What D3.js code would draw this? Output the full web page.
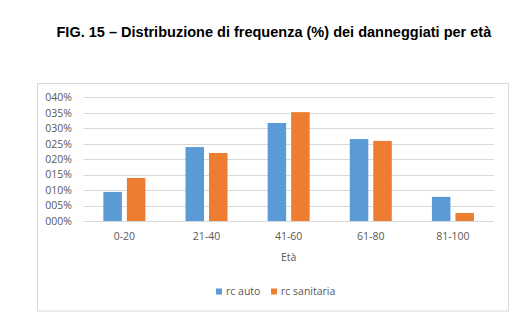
<!DOCTYPE html>
<html><head><meta charset="utf-8">
<script src="https://cdn.jsdelivr.net/npm/d3@7"></script>
<style>
body{margin:0;background:#fff;}
svg{display:block;}
</style></head>
<body>
<svg id="c" width="528" height="326"></svg>
<script>
const categories = ["0-20","21-40","41-60","61-80","81-100"];
const rcAuto = [9.4, 23.9, 31.7, 26.5, 7.8];
const rcSanitaria = [13.9, 22.0, 35.2, 25.9, 2.6];
const seriesNames = ["rc auto","rc sanitaria"];
const tickValues = [0,5,10,15,20,25,30,35,40];
const tickLabels = ["000%","005%","010%","015%","020%","025%","030%","035%","040%"];
const colors = ["#5B9BD5","#ED7D31"];

const svg = d3.select("#c");
const axisFont = "'Open Sans', 'Noto Sans', sans-serif";
const fs = 10.5;
const txtColor = "#595959";

// title
const title = svg.append("text").attr("x",56.5).attr("y",37.3)
  .attr("font-family","'Liberation Sans', Arial, sans-serif").attr("font-weight","bold")
  .attr("font-size",12.5).attr("fill","#000")
  .text("FIG. 15 – Distribuzione di frequenza (%) dei danneggiati per età");
const tw = title.node().getComputedTextLength();
title.attr("font-size", 12.5*435/tw);

// chart border
svg.append("rect").attr("x",37.5).attr("y",83.5).attr("width",471).attr("height",227.5)
  .attr("fill","none").attr("stroke","#D9D9D9").attr("stroke-width",1);

const x0 = d3.scaleBand().domain(categories).range([83.3,494]).paddingInner(0).paddingOuter(0);
const y = d3.scaleLinear().domain([0,40]).range([221,97.3]);

// gridlines
svg.append("g").selectAll("line").data(tickValues).join("line")
  .attr("x1",x0.range()[0]).attr("x2",x0.range()[1])
  .attr("y1",d=>Math.round(y(d))+0.5).attr("y2",d=>Math.round(y(d))+0.5)
  .attr("stroke","#D9D9D9").attr("stroke-width",1);

// y axis labels
const yAxis = d3.axisLeft(y).tickValues(tickValues).tickFormat((d,i)=>tickLabels[i]).tickSize(0).tickPadding(0);
const gy = svg.append("g").attr("transform","translate(72,0)").call(yAxis);
gy.select(".domain").remove();
gy.selectAll("text").attr("font-family",axisFont).attr("font-size",fs).attr("fill",txtColor);

// bars
const data = categories.map((c,i)=>({cat:c, vals:[rcAuto[i], rcSanitaria[i]]}));
const x1 = d3.scaleBand().domain([0,1]).range([0,x0.bandwidth()]).paddingInner(0.213).paddingOuter(0.853);
svg.append("g").selectAll("g").data(data).join("g")
  .attr("transform",d=>`translate(${x0(d.cat)},0)`)
  .selectAll("rect").data(d=>d.vals).join("rect")
  .attr("x",(d,i)=>x1(i)).attr("width",x1.bandwidth())
  .attr("y",d=>y(d)).attr("height",d=>y(0)-y(d))
  .attr("fill",(d,i)=>colors[i]);

// x axis labels
const xAxis = d3.axisBottom(x0).tickSize(0).tickPadding(0);
const gx = svg.append("g").attr("transform","translate(0,232.5)").call(xAxis);
gx.select(".domain").remove();
gx.selectAll("text").attr("font-family",axisFont).attr("font-size",fs).attr("fill",txtColor);

// axis title
svg.append("text").attr("x",(x0.range()[0]+x0.range()[1])/2).attr("y",260.7)
  .attr("text-anchor","middle").attr("font-family",axisFont).attr("font-size",fs)
  .attr("fill",txtColor).text("Età");

// legend
const legX = [216, 271];
const lg = svg.append("g").selectAll("g").data(seriesNames).join("g")
  .attr("transform",(d,i)=>`translate(${legX[i]},288.5)`);
lg.append("rect").attr("width",6).attr("height",6).attr("fill",(d,i)=>colors[i]);
lg.append("text").attr("x",10).attr("y",6.5).attr("font-family",axisFont).attr("font-size",fs)
  .attr("fill",txtColor).text(d=>d);
</script>
</body></html>
